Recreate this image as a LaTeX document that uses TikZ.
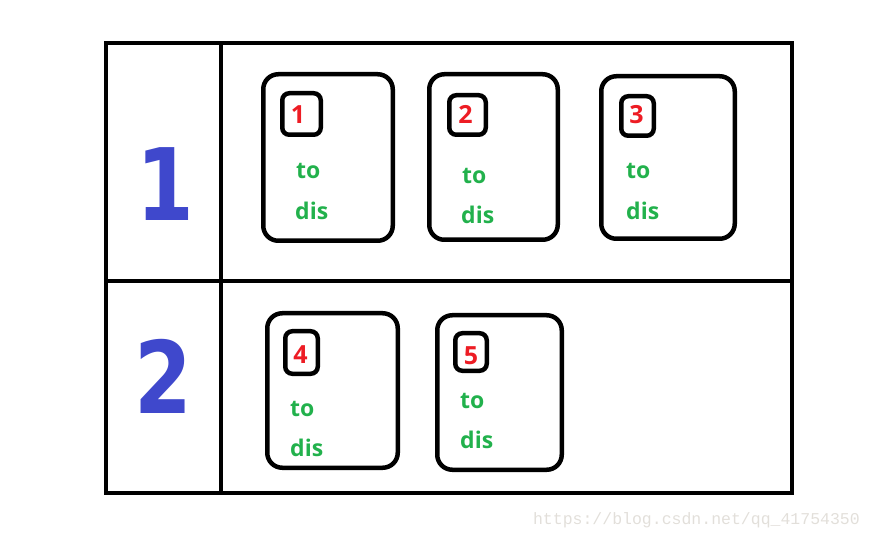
\documentclass[tikz,border=0pt]{standalone}
\usepackage{fontspec}
\usepackage{graphicx}
\setmainfont{Open Sans}
\newfontfamily\bigfont{DejaVu Sans}
\newfontfamily\wmfont{Liberation Mono}
\definecolor{pblue}{HTML}{3F48CC}
\definecolor{pred}{HTML}{ED1C24}
\definecolor{pgreen}{HTML}{22B14C}
\definecolor{wmgray}{HTML}{E2DFDA}
\begin{document}
\begin{tikzpicture}[x=1pt,y=-1pt,
  frame/.style={draw=black,line width=4.5pt},
  card/.style={draw=black,line width=4.5pt,rounded corners=15pt,inner sep=0pt},
  numbox/.style={draw=black,line width=4.5pt,rounded corners=7pt,inner sep=0pt},
  numtxt/.style={text=pred,font=\bfseries\fontsize{25}{25}\selectfont,anchor=base,inner sep=0pt},
  word/.style={text=pgreen,font=\bfseries\fontsize{23}{23}\selectfont,anchor=base west,inner sep=0pt},
  bignum/.style={text=pblue,font=\bigfont\bfseries\fontsize{100}{100}\selectfont,anchor=base,inner sep=0pt}]
\useasboundingbox (0,0) rectangle (871,540);
% frame
\draw[frame] (106,43) rectangle (792,493);
\draw[frame] (221,43) -- (221,493);
\draw[frame] (106,281) -- (792,281);
\node[bignum] (r1) at (165,221) {\scalebox{0.83}[1]{1}};
\node[bignum] (r2) at (163,413) {\scalebox{0.83}[1]{2}};
% cards
\node[card,minimum width=129.5pt,minimum height=166.5pt] (c1) at (328,157.5) {};
\node[card,minimum width=128.5pt,minimum height=165.5pt] (c2) at (493.5,157) {};
\node[card,minimum width=133.5pt,minimum height=162.5pt] (c3) at (668,157.5) {};
\node[card,minimum width=130.5pt,minimum height=154.5pt] (c4) at (332.5,390.5) {};
\node[card,minimum width=124.5pt,minimum height=154.5pt] (c5) at (499.5,392.5) {};
% number boxes
\node[numbox,minimum width=38.5pt,minimum height=41.5pt] (b1) at (301.5,114) {};
\node[numbox,minimum width=36.5pt,minimum height=39.5pt] (b2) at (467.5,115) {};
\node[numbox,minimum width=32.5pt,minimum height=39.5pt] (b3) at (637.5,116) {};
\node[numbox,minimum width=32.5pt,minimum height=42.5pt] (b4) at (301.5,352.5) {};
\node[numbox,minimum width=31.5pt,minimum height=37.5pt] (b5) at (471,352) {};
\node[numtxt] (n1) at (298,124) {1};
\node[numtxt] (n2) at (465.5,124) {2};
\node[numtxt] (n3) at (636.5,124) {3};
\node[numtxt] (n4) at (300.5,363) {4};
\node[numtxt] (n5) at (471,364) {5};
% words
\node[word] (t1) at (296,179) {to};
\node[word] (d1) at (295,220) {dis};
\node[word] (t2) at (462,184) {to};
\node[word] (d2) at (461,224) {dis};
\node[word] (t3) at (626,179) {to};
\node[word] (d3) at (626,220) {dis};
\node[word] (t4) at (290,416) {to};
\node[word] (d4) at (290,456) {dis};
\node[word] (t5) at (460,408) {to};
\node[word] (d5) at (460,448) {dis};
% watermark
\node[text=wmgray,font=\wmfont\fontsize{16.5}{16.5}\selectfont,anchor=east,inner sep=0pt] (wm) at (860,520) {https://blog.csdn.net/qq\_41754350};
\end{tikzpicture}
\end{document}
